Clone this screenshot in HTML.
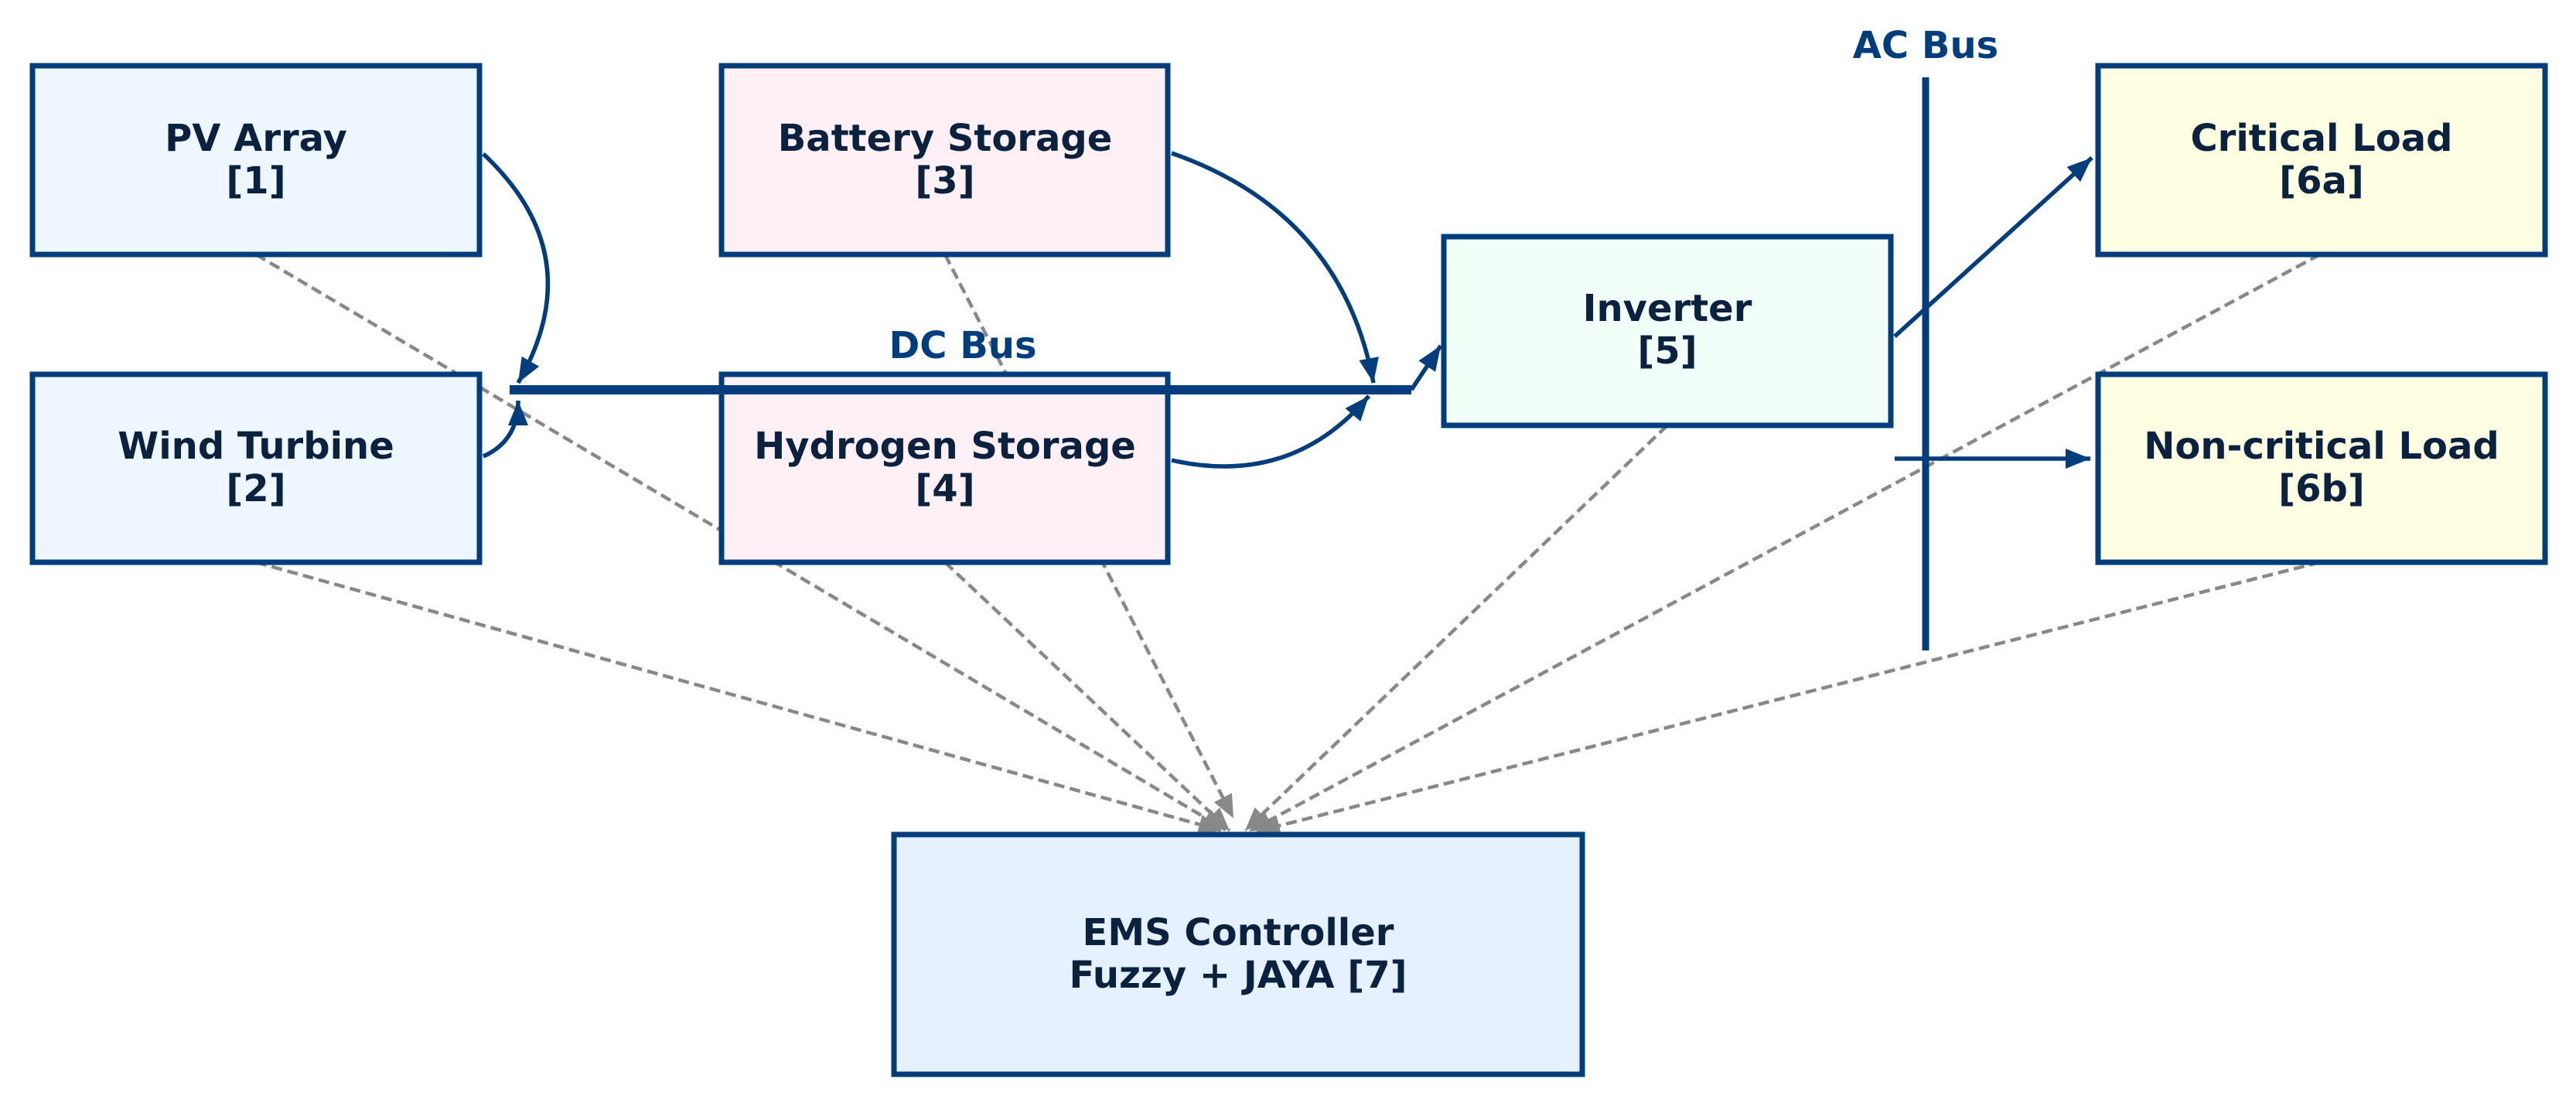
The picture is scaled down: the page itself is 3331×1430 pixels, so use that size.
<!DOCTYPE html>
<html><head><meta charset="utf-8"><style>
html,body{margin:0;padding:0;background:#fff;}
svg{display:block;}
text{font-family:"DejaVu Sans","Liberation Sans",sans-serif;font-weight:bold;}
</style></head><body>
<svg width="3331" height="1430" viewBox="0 0 3331 1430" xmlns="http://www.w3.org/2000/svg">
<defs>
<marker id="a" viewBox="0 0 10 10" refX="10" refY="5" markerWidth="32" markerHeight="26" orient="auto" markerUnits="userSpaceOnUse" preserveAspectRatio="none"><path d="M0,0 L10,5 L0,10 Z" fill="#003d7c"/></marker>
<marker id="g" viewBox="0 0 10 10" refX="10" refY="5" markerWidth="30" markerHeight="26" orient="auto" markerUnits="userSpaceOnUse" preserveAspectRatio="none"><path d="M0,0 L10,5 L0,10 Z" fill="#888"/></marker>
</defs>
<g stroke="#888" stroke-width="4.5" stroke-dasharray="14,7" fill="none" marker-end="url(#g)">
<line x1="331" y1="329" x2="1585" y2="1073"/>
<line x1="331" y1="727" x2="1580" y2="1074"/>
<line x1="1222" y1="329" x2="1595" y2="1058"/>
<line x1="1222" y1="727" x2="1590" y2="1074"/>
<line x1="2156" y1="550" x2="1610" y2="1074"/>
<line x1="3000" y1="329" x2="1615" y2="1075"/>
<line x1="3000" y1="727" x2="1625" y2="1075"/>
</g>
<g stroke="#003d7c" stroke-width="7">
<rect x="42" y="85" width="578" height="244" fill="#eef6ff"/>
<rect x="42" y="484" width="578" height="243" fill="#eef6ff"/>
<rect x="933" y="85" width="577" height="244" fill="#fff0f5"/>
<rect x="933" y="484" width="577" height="243" fill="#fff0f5"/>
<rect x="1867" y="306" width="578" height="244" fill="#f2fff8"/>
<rect x="2713" y="85" width="578" height="244" fill="#fefee2"/>
<rect x="2713" y="484" width="578" height="243" fill="#fefee2"/>
<rect x="1156" y="1079" width="890" height="310" fill="#e5f1fe"/>
</g>
<line x1="659" y1="504" x2="1825" y2="504" stroke="#003d7c" stroke-width="12"/>
<line x1="2490" y1="100" x2="2490" y2="841" stroke="#003d7c" stroke-width="9"/>
<g stroke="#003d7c" stroke-width="5.5" fill="none" marker-end="url(#a)">
<path d="M625,199 Q765,330 670,495"/>
<path d="M625,590 Q670,570 670,518"/>
<path d="M1515,198 Q1735,275 1776,495"/>
<path d="M1515,595 Q1670,630 1770,512"/>
<path d="M1825,504 L1863,447"/>
<path d="M2450,435 L2705,204"/>
<path d="M2450,593 L2703,593"/>
</g>
<g fill="#0a2240" font-size="48" text-anchor="middle">
<text x="331" y="195">PV Array</text><text x="331" y="250">[1]</text>
<text x="331" y="593">Wind Turbine</text><text x="331" y="648">[2]</text>
<text x="1222" y="195">Battery Storage</text><text x="1222" y="250">[3]</text>
<text x="1222" y="593">Hydrogen Storage</text><text x="1222" y="648">[4]</text>
<text x="2156" y="415">Inverter</text><text x="2156" y="470">[5]</text>
<text x="3002" y="195">Critical Load</text><text x="3002" y="250">[6a]</text>
<text x="3002" y="593">Non-critical Load</text><text x="3002" y="648">[6b]</text>
<text x="1601" y="1222">EMS Controller</text><text x="1601" y="1277">Fuzzy + JAYA [7]</text>
</g>
<g fill="#003d7c" font-size="48" text-anchor="middle">
<text x="1245" y="463">DC Bus</text>
<text x="2490" y="75">AC Bus</text>
</g>
</svg>
</body></html>
